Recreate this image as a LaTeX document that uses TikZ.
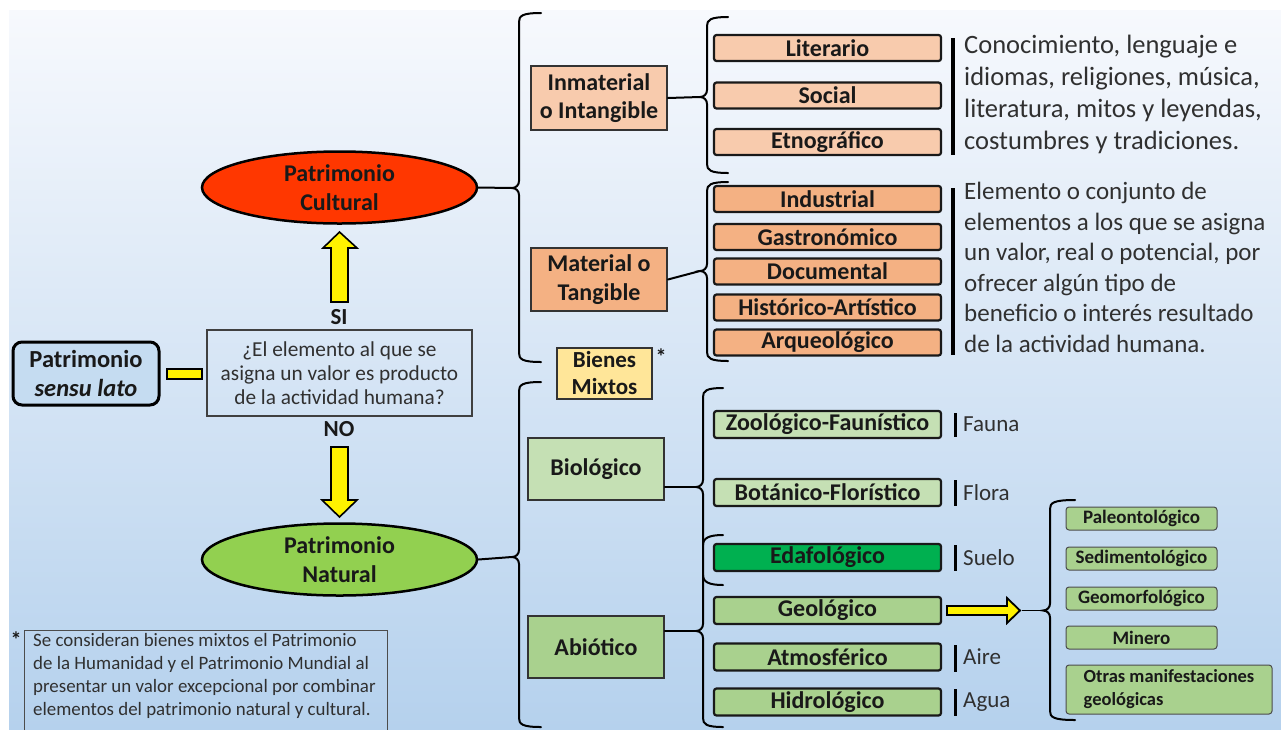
\documentclass[tikz,border=0pt]{standalone}
\usepackage{fontspec}
\setmainfont{Carlito}
\usetikzlibrary{shapes.geometric}
\definecolor{bgtop}{RGB}{247,249,253}
\definecolor{bgbot}{RGB}{181,209,237}
\definecolor{txt}{RGB}{25,25,25}
\definecolor{cult}{RGB}{255,55,0}
\definecolor{natu}{RGB}{146,208,80}
\definecolor{sal1}{RGB}{248,203,173}
\definecolor{sal2}{RGB}{244,177,131}
\definecolor{mixt}{RGB}{255,230,153}
\definecolor{gre1}{RGB}{197,224,180}
\definecolor{gre2}{RGB}{169,209,142}
\definecolor{gre3}{RGB}{0,176,80}
\definecolor{sensu}{RGB}{197,220,241}
\newcommand\mybrace[6]{%
  \coordinate (#1) at ({#2-7},#5);
  \draw[bracestyle] ({#2+#6},#3) .. controls ({#2+3},#3) and (#2,{#3+3}) .. (#2,{#3+9})
    -- (#2,{#5-7}) .. controls (#2,{#5-3}) and ({#2-3},#5) .. ({#2-7},#5)
    .. controls ({#2-3},#5) and (#2,{#5+3}) .. (#2,{#5+7})
    -- (#2,{#4-9}) .. controls (#2,{#4-3}) and ({#2+3},#4) .. ({#2+#6},#4);}
\begin{document}
\begin{tikzpicture}[x=1pt,y=-1pt,
  bracestyle/.style={line width=2pt,draw=black,line cap=round},
  rbox/.style={draw=black!90,line width=2.2pt,rounded corners=2.5pt,minimum width=227pt,minimum height=26pt,inner sep=0pt,text=txt,font=\fontsize{24}{26}\selectfont\bfseries},
  lbox/.style={draw=black!80,line width=1.8pt,minimum width=136pt,inner sep=0pt,align=center,text=txt,font=\fontsize{24}{28.5}\selectfont\bfseries},
  gbox/.style={draw=black!70,line width=1pt,rounded corners=3pt,fill=gre2,minimum width=151pt,minimum height=23pt,inner sep=0pt,text=txt,font=\fontsize{19}{21}\selectfont\bfseries},
  ell/.style={ellipse,draw=black,line width=2.5pt,minimum width=275pt,minimum height=72pt,inner sep=0pt,align=center,text=txt,font=\fontsize{24}{29}\selectfont\bfseries},
  yarrow/.style={draw=black,line width=1.6pt,fill=yellow,line join=miter},
  bar/.style={line width=3.5pt,draw=black},
  desc/.style={inner sep=0pt,align=left,text=txt!90,font=\fontsize{26.5}{32}\selectfont},
  small/.style={inner sep=0pt,anchor=west,text=txt!90,font=\fontsize{23}{26}\selectfont},
  lab/.style={inner sep=0pt,text=txt,font=\fontsize{23}{26}\selectfont\bfseries}]
\useasboundingbox (0,0) rectangle (1281,729);
\shade[top color=bgtop,bottom color=bgbot] (9,10) rectangle (1281,729);

% left part
\node[draw=black,line width=3pt,rounded corners=9pt,fill=sensu,minimum width=146pt,minimum height=63pt,inner sep=0pt,align=center,text=txt,font=\fontsize{24.5}{29}\selectfont\bfseries] (sl) at (86,373.5) {Patrimonio\\\textit{sensu lato}};
\node[draw=black!75,line width=1.5pt,minimum width=265pt,minimum height=86pt,inner sep=0pt,align=center,text=txt!90,font=\fontsize{21.3}{24}\selectfont] (q) at (339.5,373) {¿El elemento al que se\\asigna un valor es producto\\de la actividad humana?};
\draw[yarrow] (167,369) rectangle (202,379);
\node[lab] (si) at (339,317) {SI};
\node[lab] (no) at (339,429) {NO};
\draw[yarrow] (331,302) -- (331,248) -- (323,248) -- (339.5,232) -- (357,248) -- (348,248) -- (348,302) -- cycle;
\draw[yarrow] (331,447) -- (331,500) -- (322,500) -- (339.5,517) -- (357,500) -- (348,500) -- (348,447) -- cycle;
\node[ell,fill=cult] (pc) at (339.5,187.5) {Patrimonio\\Cultural};
\node[ell,fill=natu] (pn) at (339.5,559.5) {Patrimonio\\Natural};

% footnote
\node[lab,font=\fontsize{22}{22}\selectfont\bfseries] (ast1) at (16,640) {*};
\node[draw=black!70,line width=1.2pt,minimum width=363pt,minimum height=101pt,inner sep=0pt,anchor=north west] (fn) at (24,630) {};
\node[inner sep=0pt,anchor=north west,align=left,text=txt!90,font=\fontsize{18.9}{23}\selectfont] (fnt) at (33,633) {Se consideran bienes mixtos el Patrimonio\\de la Humanidad y el Patrimonio Mundial al\\presentar un valor excepcional por combinar\\elementos del patrimonio natural y cultural.};

% big braces
\mybrace{bc}{519}{13}{362}{188}{22}
\mybrace{bn}{519}{382}{727}{557}{22}
\draw[bracestyle] (pc.east) -- (bc);
\draw[bracestyle] (pn.east) -- (bn);

% second column
\node[lbox,fill=sal1,minimum height=64pt] (inm) at (599,98) {Inmaterial\\o Intangible};
\node[lbox,fill=sal2,minimum height=63pt] (mat) at (599,279.5) {Material o\\Tangible};
\node[lbox,fill=mixt,minimum width=95pt,minimum height=51pt,font=\fontsize{23}{27}\selectfont\bfseries] (mix) at (604.5,373.5) {Bienes\\Mixtos};
\node[lab,font=\fontsize{22}{22}\selectfont\bfseries] (ast2) at (661,357) {*};
\node[lbox,fill=gre1,minimum height=62pt] (bio) at (596,469) {Biológico};
\node[lbox,fill=gre2,minimum height=62pt] (abio) at (596,647) {Abiótico};

% sub braces
\mybrace{bi}{707}{17}{173}{97}{21}
\mybrace{bm}{707}{182}{361}{271}{21}
\draw[bracestyle] (inm.east) -- (bi);
\draw[bracestyle] (mat.east) -- (bm);

% bio / abio brace with two tips
\coordinate (bb) at (696,487);
\coordinate (ba) at (696,631);
\draw[bracestyle] (723,388) .. controls (706,388) and (703,391) .. (703,397)
  -- (703,480) .. controls (703,484) and (700,487) .. (bb)
  .. controls (700,487) and (703,490) .. (703,494)
  -- (703,624) .. controls (703,628) and (700,631) .. (ba)
  .. controls (700,631) and (703,634) .. (703,638)
  -- (703,718) .. controls (703,724) and (706,727) .. (723,727);
\draw[bracestyle] (723,535) .. controls (709,535) and (703,538) .. (703,545);
\draw[bracestyle] (723,585) .. controls (709,585) and (703,582) .. (703,575);
\draw[bracestyle] (bio.east |- bb) -- (bb);
\draw[bracestyle] (abio.east |- ba) -- (ba);

% third column
\node[rbox,fill=sal1] (lit) at (827.5,48) {Literario};
\node[rbox,fill=sal1] (soc) at (827.5,95.5) {Social};
\node[rbox,fill=sal1] (etn) at (827.5,142) {Etnográfico};
\node[rbox,fill=sal2] (ind) at (827.5,199) {Industrial};
\node[rbox,fill=sal2] (gas) at (827.5,237) {Gastronómico};
\node[rbox,fill=sal2] (doc) at (827.5,271.5) {Documental};
\node[rbox,fill=sal2] (his) at (827.5,307.5) {Histórico-Artístico};
\node[rbox,fill=sal2] (arq) at (827.5,342.5) {Arqueológico};
\node[rbox,fill=gre1,minimum height=27pt] (zoo) at (827.5,424.5) {Zoológico-Faunístico};
\node[rbox,fill=gre1,minimum height=27pt] (bot) at (827.5,492.5) {Botánico-Florístico};
\node[rbox,fill=gre3,minimum height=27pt] (eda) at (827.5,557.5) {Edafológico};
\node[rbox,fill=gre2,minimum height=27pt] (geo) at (827.5,610.5) {Geológico};
\node[rbox,fill=gre2,minimum height=27pt] (atm) at (827.5,657) {Atmosférico};
\node[rbox,fill=gre2,minimum height=27pt] (hid) at (827.5,702) {Hidrológico};

% description bars and texts
\draw[bar] (953,38) -- (953,155);
\draw[bar] (953,188) -- (953,355);
\node[desc,anchor=north west] (d1) at (964,35) {Conocimiento, lenguaje e\\idiomas, religiones, música,\\literatura, mitos y leyendas,\\costumbres y tradiciones.};
\node[desc,anchor=north west,font=\fontsize{25}{30.6}\selectfont] (d2) at (964,182) {Elemento o conjunto de\\elementos a los que se asigna\\un valor, real o potencial, por\\ofrecer algún tipo de\\beneficio o interés resultado\\de la actividad humana.};

\draw[bar,line width=3pt] (955,413) -- (955,437);
\draw[bar,line width=3pt] (955,480) -- (955,506);
\draw[bar,line width=3pt] (955,545) -- (955,571);
\draw[bar,line width=3pt] (955,645) -- (955,672);
\draw[bar,line width=3pt] (955,689) -- (955,716);
\node[small] (fa) at (963,424.5) {Fauna};
\node[small] (fl) at (963,492.5) {Flora};
\node[small] (su) at (963,557.5) {Suelo};
\node[small] (ai) at (963,657) {Aire};
\node[small] (ag) at (963,702) {Agua};

% geologic arrow and brace
\draw[yarrow,line width=1.8pt] (947,606) -- (1007,606) -- (1007,598) -- (1020,610.5) -- (1007,623) -- (1007,615) -- (947,615) -- cycle;
\coordinate (ge) at (1022,610.5);
\mybrace{bg}{1050}{500}{720}{610.5}{25}
\draw[line width=1.5pt] (ge) -- (bg);

\node[gbox] (pal) at (1141.5,518.5) {Paleontológico};
\node[gbox] (sed) at (1141.5,558.5) {Sedimentológico};
\node[gbox] (gmo) at (1141.5,598.5) {Geomorfológico};
\node[gbox] (min) at (1141.5,637.5) {Minero};
\node[gbox,minimum width=206pt,minimum height=49pt,align=left,font=\fontsize{18.5}{23}\selectfont\bfseries] (otr) at (1169,689.5) {Otras manifestaciones\\geológicas};
\end{tikzpicture}
\end{document}
